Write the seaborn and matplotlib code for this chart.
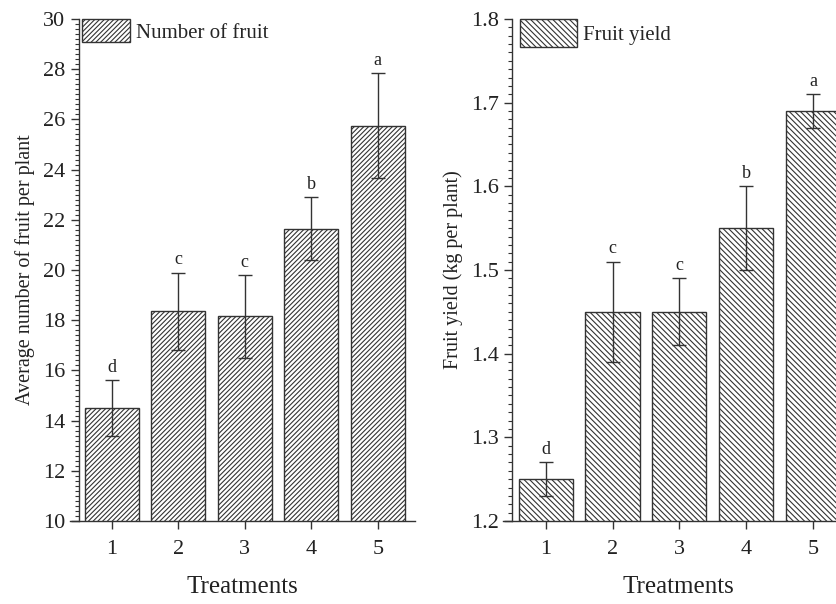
import matplotlib
matplotlib.use("Agg")
import matplotlib.pyplot as plt
from matplotlib.patches import Patch
from matplotlib.ticker import MultipleLocator, AutoMinorLocator, FormatStrFormatter
import seaborn as sns
import pandas as pd

treatments = [1, 2, 3, 4, 5]
fruit_number = [14.5, 18.35, 18.15, 21.65, 25.75]
fruit_number_err = [1.1, 1.55, 1.65, 1.25, 2.1]
fruit_number_letters = ["d", "c", "c", "b", "a"]

fruit_yield = [1.25, 1.45, 1.45, 1.55, 1.69]
fruit_yield_err = [0.02, 0.06, 0.04, 0.05, 0.02]
fruit_yield_letters = ["d", "c", "c", "b", "a"]

sns.set_theme(style="ticks")
plt.rcParams["font.family"] = ["Liberation Serif", "DejaVu Serif"]
plt.rcParams["hatch.linewidth"] = 0.8
plt.rcParams["hatch.color"] = "#3a3a3a"

INK = "#333333"
TXT = "#222222"
fig = plt.figure(figsize=(8.36, 6.04), dpi=100)
W, H = 836, 604

def px_axes(x0, y_top, x1, y_bot):
    return fig.add_axes([x0 / W, 1 - y_bot / H, (x1 - x0) / W, (y_bot - y_top) / H])

ax1 = px_axes(70, 19, 415, 521)
ax2 = px_axes(503, 19, 853, 521)

def panel(ax, vals, errs, letters, hatch, ylim, major, ylabel, legend_label, xlim,
          hl, hh, leg_x):
    df = pd.DataFrame({"Treatment": treatments, "val": vals})
    sns.barplot(data=df, x="Treatment", y="val", native_scale=True, width=0.81,
                color="white", edgecolor=INK, linewidth=1.0, errorbar=None, ax=ax)
    for p in ax.patches:
        p.set_hatch(hatch)
        p.set_facecolor("white")
        p.set_edgecolor(INK)
    ax.errorbar(treatments, vals, yerr=errs, fmt="none", ecolor=INK, elinewidth=1.0,
                capsize=5, capthick=1.0, zorder=5)
    for x, v, e, l in zip(treatments, vals, errs, letters):
        ax.annotate(l, (x, v + e), xytext=(0, 3), textcoords="offset points",
                    ha="center", va="bottom", fontsize=13, color=TXT)
    ax.set_xlim(*xlim)
    ax.set_ylim(*ylim)
    ax.yaxis.set_major_locator(MultipleLocator(major))
    ax.yaxis.set_minor_locator(AutoMinorLocator(10))
    ax.set_xticks(treatments)
    ax.set_xticklabels([str(t) for t in treatments])
    ax.spines["top"].set_visible(False)
    ax.spines["right"].set_visible(False)
    ax.spines["left"].set_position(("data", 0.5))
    for s in ("left", "bottom"):
        ax.spines[s].set_color(INK)
        ax.spines[s].set_linewidth(1.0)
    ax.tick_params(axis="both", which="major", direction="out", length=6, width=1.0,
                   color=INK, labelsize=16, labelcolor=TXT)
    ax.tick_params(axis="y", which="minor", direction="out", length=3, width=0.8, color=INK)
    ax.tick_params(axis="x", which="major", pad=8)
    ax.set_xlabel("Treatments", fontsize=18, color=TXT, labelpad=12)
    ax.set_ylabel(ylabel, fontsize=14.5, color=TXT, labelpad=6)
    handle = Patch(facecolor="white", edgecolor=INK, hatch=hatch, linewidth=1.0)
    ax.legend([handle], [legend_label], loc="upper left",
              bbox_to_anchor=(leg_x, 1.0), bbox_transform=ax.transAxes,
              frameon=False, fontsize=15, handlelength=hl, handleheight=hh,
              handletextpad=0.3, borderaxespad=0.0, borderpad=0.0)
    ax.set_facecolor("white")

panel(ax1, fruit_number, fruit_number_err, fruit_number_letters, "///////",
      (10, 30), 2, "Average number of fruit per plant", "Number of fruit",
      (0.37, 5.56), 2.3, 1.35, 0.035)
panel(ax2, fruit_yield, fruit_yield_err, fruit_yield_letters, "\\" * 6,
      (1.2, 1.8), 0.1, "Fruit yield (kg per plant)", "Fruit yield",
      (0.36, 5.6), 2.75, 1.7, 0.048)
ax2.yaxis.set_major_formatter(FormatStrFormatter("%.1f"))

fig.savefig("out.png", dpi=100, facecolor="white")
